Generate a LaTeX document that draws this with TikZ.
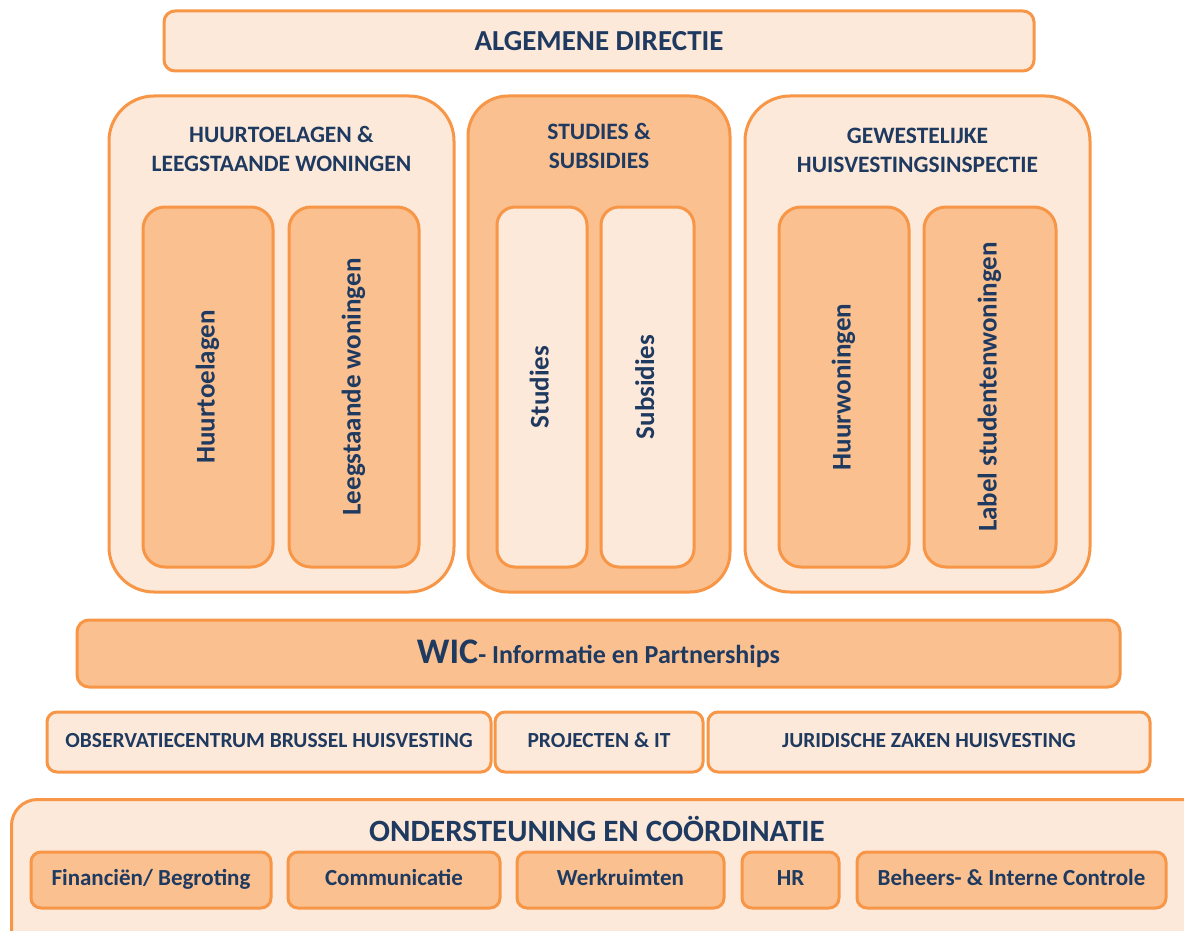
\documentclass[tikz,border=0pt]{standalone}
\usepackage{fontspec}
\setmainfont{Carlito}
\definecolor{lightfill}{HTML}{FDE9D9}
\definecolor{darkfill}{HTML}{FAC090}
\definecolor{edge}{HTML}{F79646}
\definecolor{txt}{HTML}{1F3A60}
\tikzset{
  base/.style={draw=edge, line width=3pt, inner sep=0pt, text=txt, font=\bfseries, align=center},
  lightbox/.style={base, fill=lightfill},
  darkbox/.style={base, fill=darkfill},
  ttl/.style={text=txt, font=\bfseries\fontsize{23.5}{29}\selectfont, align=center, inner sep=0pt},
  vert/.style={rotate=90, font=\bfseries\fontsize{27}{31}\selectfont, text height=19pt, text depth=6pt},
  rowlbl/.style={font=\bfseries\fontsize{21.5}{24}\selectfont, text height=15pt, text depth=5pt},
  botlbl/.style={font=\bfseries\fontsize{23}{27}\selectfont, text height=16pt, text depth=5pt},
}
\begin{document}
\begin{tikzpicture}[x=1pt,y=-1pt]
\useasboundingbox (0,0) rectangle (1184,931);
\clip (0,0) rectangle (1184,931);
% top
\node[lightbox, minimum width=870pt, minimum height=60pt, rounded corners=11pt, font=\bfseries\fontsize{29}{33}\selectfont] (ad) at (599,41) {ALGEMENE DIRECTIE};
% big boxes
\node[lightbox, minimum width=345pt, minimum height=496pt, rounded corners=45pt] (b1) at (281.5,344) {};
\node[darkbox, minimum width=262pt, minimum height=496pt, rounded corners=40pt] (b2) at (599,344) {};
\node[lightbox, minimum width=345pt, minimum height=496pt, rounded corners=45pt] (b3) at (917.5,344) {};
\node[ttl] (t1) at (281.5,149) {HUURTOELAGEN \&\\LEEGSTAANDE WONINGEN};
\node[ttl] (t2) at (599,146) {STUDIES \&\\SUBSIDIES};
\node[ttl] (t3) at (917.5,150) {GEWESTELIJKE\\HUISVESTINGSINSPECTIE};
% inner vertical boxes
\node[darkbox, minimum width=130pt, minimum height=360pt, rounded corners=22pt] (i1) at (208,387) {};
\node[vert, text=txt] at (i1) {Huurtoelagen};
\node[darkbox, minimum width=130pt, minimum height=360pt, rounded corners=22pt] (i2) at (354,387) {};
\node[vert, text=txt] at (i2) {Leegstaande woningen};
\node[lightbox, minimum width=90pt, minimum height=360pt, rounded corners=18pt] (i3) at (542,387) {};
\node[vert, text=txt] at (i3) {Studies};
\node[lightbox, minimum width=93pt, minimum height=360pt, rounded corners=18pt] (i4) at (647.5,387) {};
\node[vert, text=txt] at (i4) {Subsidies};
\node[darkbox, minimum width=130pt, minimum height=360pt, rounded corners=22pt] (i5) at (844,387) {};
\node[vert, text=txt] at (i5) {Huurwoningen};
\node[darkbox, minimum width=132pt, minimum height=360pt, rounded corners=22pt] (i6) at (990,387) {};
\node[vert, text=txt] at (i6) {Label studentenwoningen};
% WIC
\node[darkbox, minimum width=1043pt, minimum height=67pt, rounded corners=12pt] (wic) at (598.5,653.5) {{\fontsize{36}{40}\selectfont WIC}{\fontsize{26}{30}\selectfont - Informatie en Partnerships}};
% row
\node[lightbox, rowlbl, minimum width=444pt, minimum height=60pt, rounded corners=10pt] (obs) at (269,742) {OBSERVATIECENTRUM BRUSSEL HUISVESTING};
\node[lightbox, rowlbl, minimum width=208pt, minimum height=60pt, rounded corners=10pt] (proj) at (599,742) {PROJECTEN \& IT};
\node[lightbox, rowlbl, minimum width=442pt, minimum height=60pt, rounded corners=10pt] (jur) at (929,742) {JURIDISCHE ZAKEN HUISVESTING};
% bottom
\node[lightbox, minimum width=1200pt, minimum height=170pt, rounded corners=26pt, anchor=north west] (ond) at (10,798) {};
\node[text=txt, font=\bfseries\fontsize{31}{35}\selectfont, inner sep=0pt] (ondt) at (597,829) {ONDERSTEUNING EN COÖRDINATIE};
\node[darkbox, botlbl, minimum width=240pt, minimum height=56pt, rounded corners=10pt] (fin) at (151,880) {Financiën/ Begroting};
\node[darkbox, botlbl, minimum width=212pt, minimum height=56pt, rounded corners=10pt] (com) at (394,880) {Communicatie};
\node[darkbox, botlbl, minimum width=207pt, minimum height=56pt, rounded corners=10pt] (wer) at (620.5,880) {Werkruimten};
\node[darkbox, botlbl, minimum width=97pt, minimum height=56pt, rounded corners=10pt] (hr) at (790.5,880) {HR};
\node[darkbox, botlbl, minimum width=309pt, minimum height=56pt, rounded corners=10pt] (beh) at (1011.5,880) {Beheers- \& Interne Controle};
\end{tikzpicture}
\end{document}
